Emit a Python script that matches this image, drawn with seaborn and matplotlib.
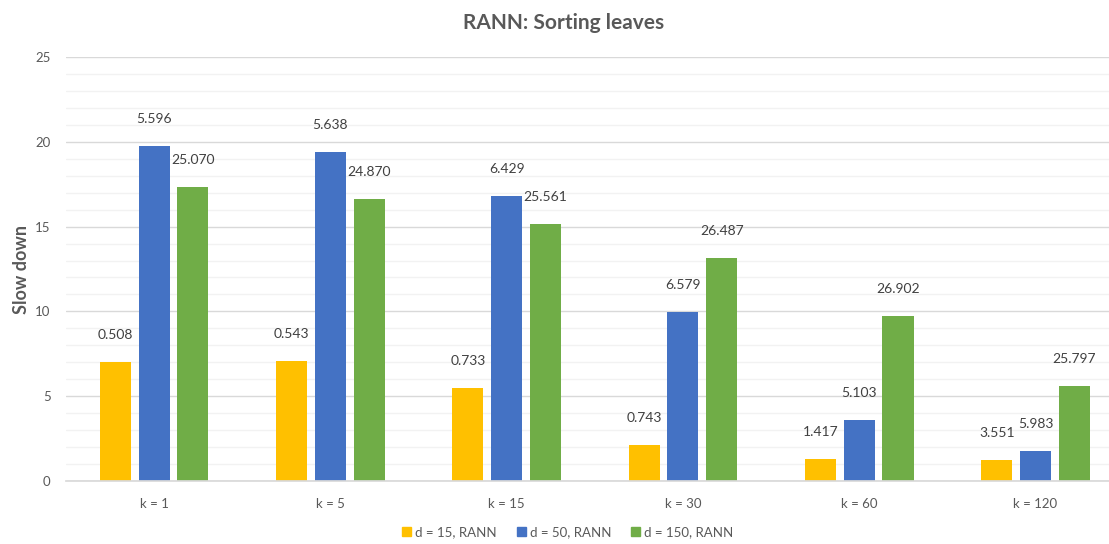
import matplotlib
matplotlib.use("Agg")
import matplotlib.pyplot as plt
import matplotlib.patches as mpatches
import seaborn as sns
import pandas as pd

# Categories and series
ks = ["k = 1", "k = 5", "k = 15", "k = 30", "k = 60", "k = 120"]
series = ["d = 15, RANN", "d = 50, RANN", "d = 150, RANN"]

# Slow-down factors (bar heights)
slow_d15 = [7.03, 7.07, 5.47, 2.10, 1.32, 1.22]
slow_d50 = [19.75, 19.40, 16.80, 9.98, 3.62, 1.77]
slow_d150 = [17.33, 16.60, 15.16, 13.15, 9.73, 5.61]

# Annotated timings printed above each bar
time_d15 = ["0.508", "0.543", "0.733", "0.743", "1.417", "3.551"]
time_d50 = ["5.596", "5.638", "6.429", "6.579", "5.103", "5.983"]
time_d150 = ["25.070", "24.870", "25.561", "26.487", "26.902", "25.797"]

colors = ["#FFC000", "#4472C4", "#70AD47"]
text_gray = "#595959"

sns.set_theme(style="white")
plt.rcParams["font.family"] = ["Lato", "DejaVu Sans"]

df = pd.DataFrame({
    "k": ks * 3,
    "series": [series[0]] * 6 + [series[1]] * 6 + [series[2]] * 6,
    "slow": slow_d15 + slow_d50 + slow_d150,
})

fig = plt.figure(figsize=(11.09, 5.44), dpi=100)
ax = fig.add_axes([0.0595, 0.1158, 0.9405, 0.7794])

sns.barplot(data=df, x="k", y="slow", hue="series", order=ks, hue_order=series,
            palette=colors, width=0.66, gap=0.2, saturation=1, ax=ax,
            legend=False, edgecolor="none")

# Labels above bars
for cont, labels in zip(ax.containers, [time_d15, time_d50, time_d150]):
    for patch, lab in zip(cont.patches, labels):
        x = patch.get_x() + patch.get_width() / 2
        y = patch.get_height()
        ax.annotate(lab, (x, y), xytext=(0, 19.5), textcoords="offset points",
                    ha="center", va="center", fontsize=10, color="#404040")

ax.set_ylim(0, 25)
ax.set_xlim(-0.5, 5.417)
ax.set_yticks(range(0, 26, 5))
ax.set_yticks(range(0, 26, 1), minor=True)
ax.grid(axis="y", which="major", color="#d9d9d9", linewidth=1)
ax.grid(axis="y", which="minor", color="#f2f2f2", linewidth=1)
ax.set_axisbelow(True)
for s in ["top", "right", "left"]:
    ax.spines[s].set_visible(False)
ax.spines["bottom"].set_color("#d9d9d9")
ax.tick_params(axis="both", which="both", length=0, labelsize=9.5, labelcolor=text_gray)
ax.tick_params(axis="x", pad=12)
ax.tick_params(axis="y", pad=11)

ax.set_xlabel("")
ax.set_ylabel("Slow down", fontsize=13, fontweight="bold", color=text_gray, labelpad=4)
fig.text(0.508, 0.958, "RANN: Sorting leaves", ha="center", va="center",
         fontsize=15, fontweight="bold", color=text_gray)

handles = [mpatches.Patch(color=c, label=s) for c, s in zip(colors, series)]
fig.legend(handles=handles, loc="center", bbox_to_anchor=(0.512, 0.022), ncol=3,
           frameon=False, fontsize=9.5, handlelength=0.7, handleheight=0.7,
           handletextpad=0.3, columnspacing=1.5, labelcolor=text_gray)

fig.savefig("out.png", dpi=100, facecolor="white")
